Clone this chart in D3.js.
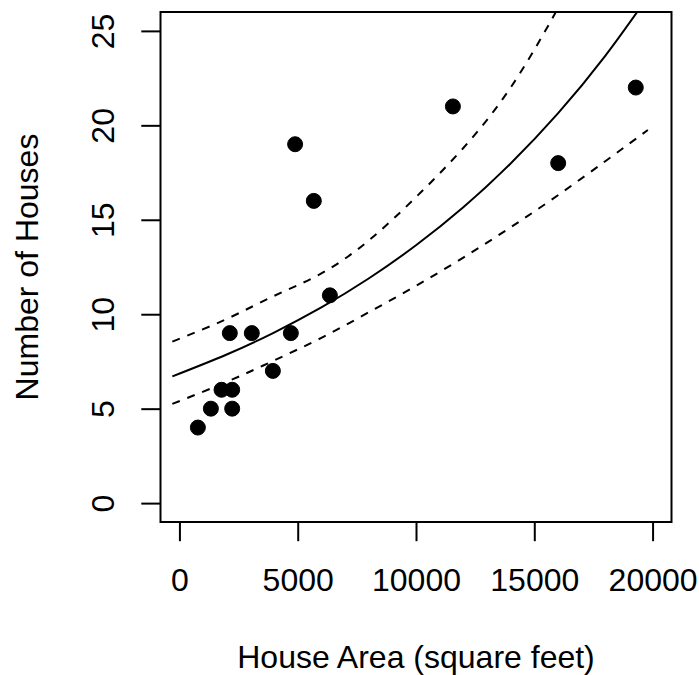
<!DOCTYPE html>
<html>
<head>
<meta charset="utf-8">
<script src="https://cdn.jsdelivr.net/npm/d3@7"></script>
<style>
  html, body { margin: 0; padding: 0; background: #fff; }
  text { font-family: "Liberation Sans", Arial, sans-serif; fill: #000; }
</style>
</head>
<body>
<div id="container"></div>
<script>
// observed points
var area   = [780, 1330, 2230, 1780, 2230, 2130, 3060, 3950, 4710, 4890, 5680, 6360, 11560, 16010, 19290];
var houses = [4, 5, 5, 6, 6, 9, 9, 7, 9, 19, 16, 11, 21, 18, 22];

// fitted curve and its band
var curveX   = [-300, 2000, 4000, 6000, 8000, 10000, 12000, 14000, 16000, 18000, 19800];
var fitY     = [6.71, 7.87, 9.03, 10.36, 11.89, 13.65, 15.66, 17.98, 20.63, 23.68, 26.8];
var upperY   = [8.55, 9.75, 10.97, 12.16, 13.9, 16.2, 18.8, 22.0, 26.2, 31, 36];
var lowerY   = [5.25, 6.42, 7.55, 8.75, 10.1, 11.5, 13.0, 14.6, 16.3, 18.1, 19.75];

var xTicks = [0, 5000, 10000, 15000, 20000];
var yTicks = [0, 5, 10, 15, 20, 25];

var width = 699, height = 675;
var mLeft = 160.5, mRight = 671.5, mTop = 12, mBottom = 522;
var lineH = 38.4, fontPx = 32;

var svg = d3.select("#container").append("svg")
    .attr("width", width)
    .attr("height", height);

var x = d3.scaleLinear().domain([-800, 20800]).range([mLeft, mRight]);
var y = d3.scaleLinear().domain([-1, 26]).range([mBottom, mTop]);

svg.append("clipPath").attr("id", "plotclip")
  .append("rect")
    .attr("x", mLeft).attr("y", mTop)
    .attr("width", mRight - mLeft).attr("height", mBottom - mTop);

var plot = svg.append("g").attr("clip-path", "url(#plotclip)");

function band(ys) {
  return d3.line()
    .x(function(d) { return x(d); })
    .y(function(d, i) { return y(ys[i]); })
    .curve(d3.curveNatural)(curveX);
}

plot.append("path")
    .attr("d", band(fitY))
    .attr("fill", "none").attr("stroke", "#000").attr("stroke-width", 2);

[upperY, lowerY].forEach(function(ys) {
  plot.append("path")
      .attr("d", band(ys))
      .attr("fill", "none").attr("stroke", "#000").attr("stroke-width", 2)
      .attr("stroke-dasharray", "8,8");
});

plot.selectAll("circle")
    .data(area)
    .enter()
    .append("circle")
    .attr("cx", function(d) { return x(d); })
    .attr("cy", function(d, i) { return y(houses[i]); })
    .attr("r", 7.5)
    .attr("fill", "#000")
    .attr("stroke", "#000")
    .attr("stroke-width", 1);

// box
svg.append("rect")
    .attr("x", mLeft).attr("y", mTop)
    .attr("width", mRight - mLeft).attr("height", mBottom - mTop)
    .attr("fill", "none").attr("stroke", "#000").attr("stroke-width", 2);

// x axis
var xAxis = d3.axisBottom(x).tickValues(xTicks).tickSize(19.2).tickPadding(0)
    .tickFormat(function(d) { return String(d); });
var gx = svg.append("g").attr("transform", "translate(0," + mBottom + ")").call(xAxis);
gx.select(".domain").remove();
gx.selectAll(".tick line").attr("stroke", "#000").attr("stroke-width", 2);
gx.selectAll(".tick text")
    .attr("y", 1.8 * lineH).attr("dy", null)
    .attr("font-size", fontPx)
    .attr("font-family", "Liberation Sans, Arial, sans-serif")
    .attr("fill", "#000");

// y axis
var yAxis = d3.axisLeft(y).tickValues(yTicks).tickSize(19.2).tickPadding(0);
var gy = svg.append("g").attr("transform", "translate(" + mLeft + ",0)").call(yAxis);
gy.select(".domain").remove();
gy.selectAll(".tick line").attr("stroke", "#000").attr("stroke-width", 2);
gy.selectAll(".tick text")
    .attr("x", null).attr("dy", null)
    .attr("transform", "translate(" + (-1.2 * lineH) + ",0) rotate(-90)")
    .attr("text-anchor", "middle")
    .attr("font-size", fontPx)
    .attr("font-family", "Liberation Sans, Arial, sans-serif")
    .attr("fill", "#000");

// axis titles
svg.append("text")
    .attr("x", (mLeft + mRight) / 2)
    .attr("y", mBottom + 3.8 * lineH)
    .attr("text-anchor", "middle")
    .attr("font-size", fontPx)
    .text("House Area (square feet)");

svg.append("text")
    .attr("transform", "translate(" + (mLeft - 3.2 * lineH) + "," + ((mTop + mBottom) / 2) + ") rotate(-90)")
    .attr("text-anchor", "middle")
    .attr("font-size", fontPx)
    .text("Number of Houses");
</script>
</body>
</html>
